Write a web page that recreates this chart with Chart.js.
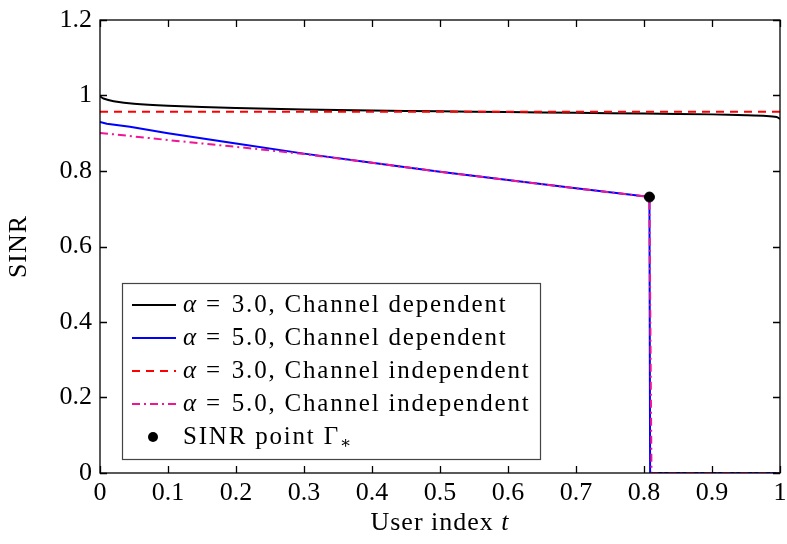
<!DOCTYPE html>
<html>
<head>
<meta charset="utf-8">
<script src="https://cdn.jsdelivr.net/npm/chart.js@4.4.1/dist/chart.umd.min.js"></script>
<style>
  html, body { margin: 0; padding: 0; background: #fff; }
  #wrap { width: 787px; height: 544px; }
</style>
</head>
<body>
<div id="wrap"><canvas id="sinrChart" width="787" height="544"></canvas></div>
<script>
// user index grids and SINR values
const tA3Dep = [0, 0.005, 0.02, 0.05, 0.1, 0.2, 0.3, 0.4, 0.5, 0.6, 0.7, 0.8, 0.9, 0.95, 0.98, 0.995, 1];
const sinrA3Dep = [0.998, 0.992, 0.985, 0.978, 0.973, 0.967, 0.963, 0.960, 0.958, 0.956, 0.954, 0.952, 0.950, 0.948, 0.946, 0.943, 0.938];

const tA5Dep = [0, 0.01, 0.044, 0.1, 0.2, 0.3, 0.4, 0.5, 0.6, 0.7, 0.8, 0.808, 0.809, 1];
const sinrA5Dep = [0.930, 0.925, 0.917, 0.900, 0.873, 0.846, 0.822, 0.798, 0.776, 0.754, 0.733, 0.731, 0, 0];

const tA3Ind = [0, 0.5, 1];
const sinrA3Ind = [0.957, 0.957, 0.957];

const tA5Ind = [0, 0.1, 0.2, 0.3, 0.4, 0.5, 0.6, 0.7, 0.8, 0.808, 0.811, 1];
const sinrA5Ind = [0.901, 0.882, 0.864, 0.845, 0.822, 0.798, 0.776, 0.754, 0.733, 0.731, 0, 0];

const tPoint = [0.808];
const sinrPoint = [0.731];

const xTicks = [0, 0.1, 0.2, 0.3, 0.4, 0.5, 0.6, 0.7, 0.8, 0.9, 1];
const yTicks = [0, 0.2, 0.4, 0.6, 0.8, 1, 1.2];

const serif = "'Liberation Serif', 'DejaVu Serif', serif";
const toXY = (xs, ys) => xs.map((x, i) => ({ x: x, y: ys[i] }));

// frame, inward ticks on all four sides, axis titles and the legend box
const decorations = {
  id: "decorations",
  afterDatasetsDraw(chart) {
    const { ctx, chartArea: a, scales } = chart;
    ctx.save();
    ctx.strokeStyle = "#000";
    ctx.lineWidth = 1.3;
    ctx.strokeRect(a.left, a.top, a.right - a.left, a.bottom - a.top);
    const len = 7;
    ctx.beginPath();
    xTicks.forEach((v) => {
      const px = Math.round(scales.x.getPixelForValue(v)) + 0.5;
      ctx.moveTo(px, a.bottom); ctx.lineTo(px, a.bottom - len);
      ctx.moveTo(px, a.top); ctx.lineTo(px, a.top + len);
    });
    yTicks.forEach((v) => {
      const py = Math.round(scales.y.getPixelForValue(v)) + 0.5;
      ctx.moveTo(a.left, py); ctx.lineTo(a.left + len, py);
      ctx.moveTo(a.right, py); ctx.lineTo(a.right - len, py);
    });
    ctx.stroke();

    // axis titles
    ctx.letterSpacing = "1px";
    ctx.fillStyle = "#000";
    ctx.textBaseline = "middle";
    const xt1 = "User index ";
    ctx.font = "italic 26px " + serif;
    const wt = ctx.measureText("t").width;
    ctx.font = "26px " + serif;
    const w1 = ctx.measureText(xt1).width;
    const cx = (a.left + a.right) / 2;
    const sx = cx - (w1 + wt) / 2;
    ctx.textAlign = "left";
    ctx.fillText(xt1, sx, 523);
    ctx.font = "italic 26px " + serif;
    ctx.fillText("t", sx + w1, 523);

    ctx.save();
    ctx.translate(19, (a.top + a.bottom) / 2);
    ctx.rotate(-Math.PI / 2);
    ctx.textAlign = "center";
    ctx.font = "26px " + serif;
    ctx.fillText("SINR", 0, 0);
    ctx.restore();

    // legend
    const lx = 122, ly = 283, lw = 418, lh = 176;
    ctx.fillStyle = "#fff";
    ctx.fillRect(lx, ly, lw, lh);
    ctx.strokeStyle = "#444";
    ctx.lineWidth = 1.2;
    ctx.strokeRect(lx + 0.5, ly + 0.5, lw, lh);
    ctx.letterSpacing = "1.8px";
    const rowY = [305, 338, 371, 404, 437];
    chart.data.datasets.forEach((ds) => {
      const y = rowY[ds.legendRow];
      ctx.save();
      if (ds.showLine === false) {
        ctx.fillStyle = ds.pointBackgroundColor;
        ctx.beginPath();
        ctx.arc(153, y, 5, 0, Math.PI * 2);
        ctx.fill();
      } else {
        ctx.strokeStyle = ds.borderColor;
        ctx.lineWidth = ds.borderWidth;
        ctx.setLineDash(ds.borderDash || []);
        ctx.beginPath();
        ctx.moveTo(132, y);
        ctx.lineTo(176, y);
        ctx.stroke();
      }
      ctx.restore();
      ctx.fillStyle = "#000";
      ctx.textAlign = "left";
      let tx = 183;
      if (ds.alpha) {
        ctx.font = "italic 25px " + serif;
        ctx.fillText("α", tx, y);
        tx += ctx.measureText("α").width + 4;
        ctx.font = "25px " + serif;
        ctx.fillText("=", tx + 4, y);
        tx += ctx.measureText("=").width + 14;
        ctx.fillText(ds.alpha + ", " + ds.label, tx, y);
      } else {
        ctx.font = "25px " + serif;
        ctx.fillText(ds.label, tx, y);
        tx += ctx.measureText(ds.label).width;
        ctx.font = "17px " + serif;
        ctx.fillText("∗", tx, y + 7);
      }
    });
    ctx.restore();
  }
};

const datasets = [
  {
    label: "Channel dependent", alpha: "3.0", legendRow: 0, order: 4,
    data: toXY(tA3Dep, sinrA3Dep),
    borderColor: "#000000", borderWidth: 2, pointRadius: 0, tension: 0.3
  },
  {
    label: "Channel dependent", alpha: "5.0", legendRow: 1, order: 3,
    data: toXY(tA5Dep, sinrA5Dep),
    borderColor: "#0000ff", borderWidth: 2, pointRadius: 0, tension: 0
  },
  {
    label: "Channel independent", alpha: "3.0", legendRow: 2, order: 2,
    data: toXY(tA3Ind, sinrA3Ind),
    borderColor: "#ff0000", borderWidth: 2, borderDash: [8, 6], pointRadius: 0
  },
  {
    label: "Channel independent", alpha: "5.0", legendRow: 3, order: 1,
    data: toXY(tA5Ind, sinrA5Ind),
    borderColor: "rgb(240,20,150)", borderWidth: 2, borderDash: [8, 4, 2, 4], pointRadius: 0
  },
  {
    label: "SINR point Γ", legendRow: 4, order: 0,
    data: toXY(tPoint, sinrPoint),
    showLine: false, pointRadius: 5, pointBackgroundColor: "#000", pointBorderColor: "#000"
  }
];

const noPad = (s) => { s.paddingLeft = 0; s.paddingRight = 0; s.paddingTop = 0; s.paddingBottom = 0; };

new Chart(document.getElementById("sinrChart").getContext("2d"), {
  type: "line",
  data: { datasets: datasets },
  options: {
    responsive: false,
    animation: false,
    layout: { padding: { top: 20, right: 7, left: 0, bottom: 0 } },
    plugins: { legend: { display: false }, tooltip: { enabled: false } },
    scales: {
      x: {
        type: "linear", min: 0, max: 1,
        afterFit: (s) => { s.height = 71; noPad(s); },
        afterBuildTicks: (s) => { s.ticks = xTicks.map((v) => ({ value: v })); },
        grid: { display: false, tickLength: 0 },
        border: { display: false },
        ticks: { color: "#000", padding: 5, font: { family: serif, size: 26 }, maxRotation: 0, callback: (v) => String(v) }
      },
      y: {
        min: 0, max: 1.2,
        afterFit: (s) => { s.width = 100; noPad(s); },
        afterBuildTicks: (s) => { s.ticks = yTicks.map((v) => ({ value: v })); },
        grid: { display: false, tickLength: 0 },
        border: { display: false },
        ticks: { color: "#000", padding: 8, font: { family: serif, size: 26 }, callback: (v) => String(v) }
      }
    }
  },
  plugins: [decorations]
});
</script>
</body>
</html>
